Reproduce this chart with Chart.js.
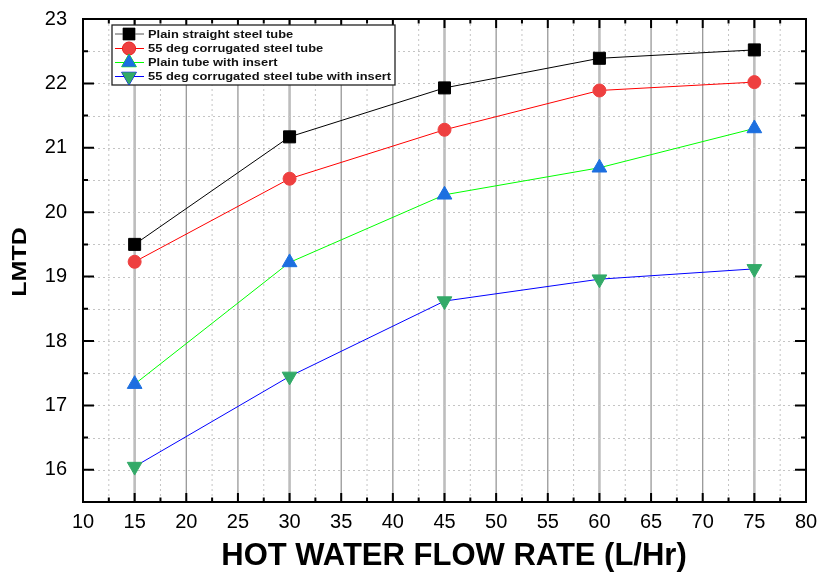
<!DOCTYPE html>
<html>
<head>
<meta charset="utf-8">
<script src="https://cdn.jsdelivr.net/npm/chart.js@4"></script>
<style>
  html, body { margin: 0; padding: 0; background: #fff; }
  #box { width: 822px; height: 572px; }
</style>
</head>
<body>
<div id="box"><canvas id="myChart" width="822" height="572"></canvas></div>
<script>

const flowRates = [15, 30, 45, 60, 75];

const plainTube = [19.50, 21.17, 21.93, 22.39, 22.52];
const corrugatedTube = [19.23, 20.52, 21.28, 21.89, 22.02];
const plainWithInsert = [17.33, 19.22, 20.27, 20.69, 21.30];
const corrugatedWithInsert = [16.05, 17.45, 18.62, 18.96, 19.12];

const seriesNames = [
  "Plain straight steel tube",
  "55 deg corrugated steel tube",
  "Plain tube with insert",
  "55 deg corrugated steel tube with insert",
];

const xTicks = [10, 15, 20, 25, 30, 35, 40, 45, 50, 55, 60, 65, 70, 75, 80];
const yTicks = [16, 17, 18, 19, 20, 21, 22, 23];

const xTitle = "HOT WATER FLOW RATE (L/Hr)";
const yTitle = "LMTD";

const FONT = "'Liberation Sans', Arial, sans-serif";

function pts(ys){
  return flowRates.map((x, i) => ({ x: x, y: ys[i] }));
}

function makeSet(label, ys, line, fill, style, radius, rot){
  return {
    label: label,
    data: pts(ys),
    borderColor: line,
    borderWidth: 1,
    backgroundColor: fill,
    pointBackgroundColor: fill,
    pointBorderColor: fill,
    pointBorderWidth: 1,
    pointStyle: style,
    pointRadius: radius,
    pointRotation: rot || 0,
    tension: 0,
  };
}

const data = {
  datasets: [
    makeSet(seriesNames[0], plainTube, "#000000", "#000000", "rect", 8.5),
    makeSet(seriesNames[1], corrugatedTube, "#ff0000", "#ee4040", "circle", 6.5),
    makeSet(seriesNames[2], plainWithInsert, "#00ff00", "#1c6fe0", "triangle", 8.5),
    makeSet(seriesNames[3], corrugatedWithInsert, "#0000ff", "#33aa68", "triangle", 8.5, 180),
  ],
};

// grid lines behind the data
const gridLines = {
  id: "gridLines",
  beforeDatasetsDraw(chart){
    const ctx = chart.ctx;
    const xs = chart.scales.x, ys = chart.scales.y;
    const a = chart.chartArea;
    ctx.save();
    for (let v = 12.5; v < 80; v += 2.5){
      const px = xs.getPixelForValue(v);
      ctx.beginPath();
      if (v % 15 === 0){
        ctx.strokeStyle = "#bdbdbd"; ctx.lineWidth = 2.6; ctx.setLineDash([]);
      } else if (v % 5 === 0){
        ctx.strokeStyle = "#8f8f8f"; ctx.lineWidth = 1.2; ctx.setLineDash([]);
      } else {
        ctx.strokeStyle = "#c4c4c4"; ctx.lineWidth = 1; ctx.setLineDash([2, 3]);
      }
      ctx.moveTo(px, a.top); ctx.lineTo(px, a.bottom);
      ctx.stroke();
    }
    ctx.strokeStyle = "#c4c4c4"; ctx.lineWidth = 1; ctx.setLineDash([2, 3]);
    for (let v = 16; v < 23; v += 0.5){
      const py = Math.round(ys.getPixelForValue(v)) + 0.5;
      ctx.beginPath();
      ctx.moveTo(a.left, py); ctx.lineTo(a.right, py);
      ctx.stroke();
    }
    ctx.restore();
  }
};

// frame, inward ticks, titles and legend
const frameAndLegend = {
  id: "frameAndLegend",
  afterDraw(chart){
    const ctx = chart.ctx;
    const xs = chart.scales.x, ys = chart.scales.y;
    const a = chart.chartArea;
    ctx.save();
    ctx.setLineDash([]);
    ctx.strokeStyle = "#000";
    ctx.lineWidth = 2;
    ctx.strokeRect(a.left, a.top, a.right - a.left, a.bottom - a.top);

    for (let v = 12.5; v < 80; v += 2.5){
      const px = xs.getPixelForValue(v);
      const len = v % 5 === 0 ? 9 : 4.5;
      ctx.beginPath();
      ctx.moveTo(px, a.bottom); ctx.lineTo(px, a.bottom - len);
      ctx.moveTo(px, a.top); ctx.lineTo(px, a.top + len);
      ctx.stroke();
    }
    for (let v = 16; v < 23; v += 0.5){
      const py = ys.getPixelForValue(v);
      const len = v % 1 === 0 ? 11 : 5;
      ctx.beginPath();
      ctx.moveTo(a.left, py); ctx.lineTo(a.left + len, py);
      ctx.moveTo(a.right, py); ctx.lineTo(a.right - len, py);
      ctx.stroke();
    }

    // axis titles
    ctx.fillStyle = "#000";
    ctx.font = "bold 31px " + FONT;
    ctx.textAlign = "center";
    ctx.textBaseline = "middle";
    ctx.fillText(xTitle, 454, 556);
    ctx.save();
    ctx.translate(20, 262);
    ctx.rotate(-Math.PI / 2);
    ctx.scale(1, 0.8);
    ctx.font = "bold 25px " + FONT;
    ctx.fillText(yTitle, 0, 0);
    ctx.restore();

    // legend
    const lx = 112, ly = 25, lw = 283, lh = 60;
    ctx.fillStyle = "#fff";
    ctx.fillRect(lx, ly, lw, lh);
    ctx.lineWidth = 1.3;
    ctx.strokeStyle = "#222";
    ctx.strokeRect(lx, ly, lw, lh);
    const rows = [34, 48.5, 62.5, 76.5];
    chart.data.datasets.forEach((ds, i) => {
      const y = rows[i];
      ctx.beginPath();
      ctx.lineWidth = 1;
      ctx.strokeStyle = i === 0 ? "#555" : ds.borderColor;
      ctx.moveTo(115, y); ctx.lineTo(144, y);
      ctx.stroke();
      Chart.helpers.drawPoint(ctx, {
        pointStyle: ds.pointStyle,
        radius: ds.pointRadius,
        rotation: ds.pointRotation,
        borderWidth: 1,
      }, 129, y);
      ctx.fillStyle = ds.pointBackgroundColor;
      ctx.strokeStyle = ds.pointBorderColor;
      ctx.fill();
      ctx.save();
      ctx.translate(148, y + 0.5);
      ctx.scale(1.17, 1);
      ctx.fillStyle = "#111";
      ctx.font = "bold 11px " + FONT;
      ctx.textAlign = "left";
      ctx.textBaseline = "middle";
      ctx.fillText(ds.label, 0, 0);
      ctx.restore();
    });
    ctx.restore();
  }
};

const config = {
  type: "line",
  data: data,
  options: {
    responsive: false,
    animation: false,
    layout: { padding: { top: 19, right: 16, left: 0, bottom: 0 } },
    plugins: { legend: { display: false }, tooltip: { enabled: false } },
    scales: {
      x: {
        type: "linear",
        min: 10,
        max: 80,
        afterFit: (scale) => {
          scale.height = 70;
          scale.paddingLeft = 0;
          scale.paddingRight = 0;
        },
        afterBuildTicks: (scale) => { scale.ticks = xTicks.map(v => ({ value: v })); },
        grid: { display: false, drawTicks: false },
        border: { display: false },
        ticks: {
          autoSkip: false,
          maxRotation: 0,
          padding: 8,
          color: "#000",
          font: { family: FONT, size: 20 },
        },
      },
      y: {
        type: "linear",
        min: 15.5,
        max: 23,
        afterFit: (scale) => {
          scale.width = 83;
          scale.paddingTop = 0;
          scale.paddingBottom = 0;
        },
        afterBuildTicks: (scale) => { scale.ticks = yTicks.map(v => ({ value: v })); },
        grid: { display: false, drawTicks: false },
        border: { display: false },
        ticks: {
          autoSkip: false,
          padding: 16,
          color: "#000",
          font: { family: FONT, size: 20 },
        },
      },
    },
  },
  plugins: [gridLines, frameAndLegend],
};

const myChart = new Chart(document.getElementById("myChart"), config);
</script>
</body>
</html>
